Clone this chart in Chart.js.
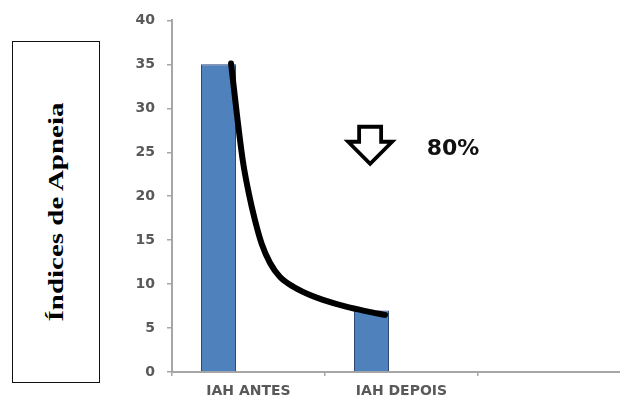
<!DOCTYPE html>
<html>
<head>
<meta charset="utf-8">
<script src="https://cdn.jsdelivr.net/npm/chart.js@4/dist/chart.umd.min.js"></script>
<style>
  html, body { margin: 0; padding: 0; background: #fff; overflow: hidden; width: 620px; height: 399px; }
  #wrap { position: absolute; left: 0; top: 0; width: 640px; height: 399px; }
  #ytitle {
    position: absolute; left: 12px; top: 41px; width: 86px; height: 340px;
    border: 1.5px solid #111; box-sizing: content-box; background: #fff;
  }
  #ytitle span {
    position: absolute; left: 50%; top: 50%;
    font-family: "Liberation Serif", "Times New Roman", serif; font-weight: bold; font-size: 21px;
    color: #000; white-space: nowrap;
    transform: translate(-50%, -50%) rotate(-90deg) scaleX(1.38);
  }
</style>
</head>
<body>
<div id="wrap"><canvas id="c"></canvas></div>
<div id="ytitle"><span>Índices de Apneia</span></div>
<script>
// Categories and values of the apnea index before / after
const categories = ['IAH ANTES', 'IAH DEPOIS', ''];
const iahValues = [35, 7, null];
const secondSeries = [null, null, null];
const yTicks = [0, 5, 10, 15, 20, 25, 30, 35, 40];

// Hand-drawn decay curve joining the two bars (x in category units, y in index units)
const curveX = [-0.114, -0.075, -0.036, 0.000, 0.042, 0.086, 0.141, 0.206, 0.293, 0.402, 0.487, 0.644, 0.775, 0.892];
const curveY = [35.1, 29.2, 23.9, 20.5, 17.3, 14.6, 12.4, 10.8, 9.7, 8.75, 8.2, 7.4, 6.9, 6.5];

const reductionLabel = '80%';

const axisGrey = '#a6a6a6';
const tickFont = { family: '"DejaVu Sans", "Open Sans", sans-serif', weight: 'bold', size: 14 };

// Down arrow and percentage annotation
const annotationPlugin = {
  id: 'reduction',
  afterDatasetsDraw(chart) {
    const { ctx } = chart;
    const xs = chart.scales.xc, ys = chart.scales.y;
    const cx = xs.getPixelForValue(0.795);
    const top = ys.getPixelForValue(27.9);
    ctx.save();
    ctx.lineWidth = 3.8;
    ctx.lineJoin = 'miter';
    ctx.strokeStyle = '#000';
    ctx.fillStyle = '#fff';
    ctx.beginPath();
    ctx.moveTo(cx - 11, top);
    ctx.lineTo(cx + 11, top);
    ctx.lineTo(cx + 11, top + 15);
    ctx.lineTo(cx + 22, top + 15);
    ctx.lineTo(cx, top + 37);
    ctx.lineTo(cx - 22, top + 15);
    ctx.lineTo(cx - 11, top + 15);
    ctx.closePath();
    ctx.fill();
    ctx.stroke();

    ctx.fillStyle = '#111';
    ctx.font = 'bold 22px "DejaVu Sans", sans-serif';
    ctx.textBaseline = 'alphabetic';
    ctx.textAlign = 'left';
    ctx.fillText(reductionLabel, xs.getPixelForValue(1.165), ys.getPixelForValue(24.7));
    ctx.restore();
  }
};

new Chart(document.getElementById('c'), {
  data: {
    labels: categories,
    datasets: [
      {
        type: 'line',
        data: curveX.map((x, i) => ({ x, y: curveY[i] })),
        xAxisID: 'xc',
        borderColor: '#000',
        borderWidth: 6,
        borderCapStyle: 'round',
        cubicInterpolationMode: 'monotone',
        pointRadius: 0,
        order: 0
      },
      {
        type: 'bar',
        data: iahValues,
        backgroundColor: '#4f81bd',
        borderColor: '#2b4a73',
        borderWidth: 1,
        categoryPercentage: 1.5686,
        barPercentage: 0.5833,
        order: 1
      },
      {
        type: 'bar',
        data: secondSeries,
        backgroundColor: '#c0504d',
        categoryPercentage: 1.5686,
        barPercentage: 0.5833,
        order: 2
      }
    ]
  },
  options: {
    responsive: true,
    maintainAspectRatio: false,
    animation: false,
    layout: { padding: { top: 20, right: 9, left: 0, bottom: 0 } },
    plugins: { legend: { display: false }, tooltip: { enabled: false } },
    scales: {
      x: {
        type: 'category',
        offset: true,
        grid: { drawOnChartArea: false, offset: true, tickLength: 4, color: axisGrey, lineWidth: 1.5 },
        border: { color: axisGrey, width: 2 },
        ticks: { font: tickFont, color: '#595959', padding: 7, maxRotation: 0 },
        afterFit(s) { s.height = 27; }
      },
      xc: {
        type: 'linear',
        display: false,
        min: -0.5,
        max: 2.5
      },
      y: {
        min: 0,
        max: 40,
        afterBuildTicks(s) { s.ticks = yTicks.map(v => ({ value: v })); },
        grid: { drawOnChartArea: false, tickLength: 5, color: axisGrey, lineWidth: 1.5 },
        border: { color: axisGrey, width: 2 },
        ticks: { font: tickFont, color: '#595959', padding: 12 },
        afterFit(s) { s.width = 172; }
      }
    }
  },
  plugins: [annotationPlugin]
});
</script>
</body>
</html>
